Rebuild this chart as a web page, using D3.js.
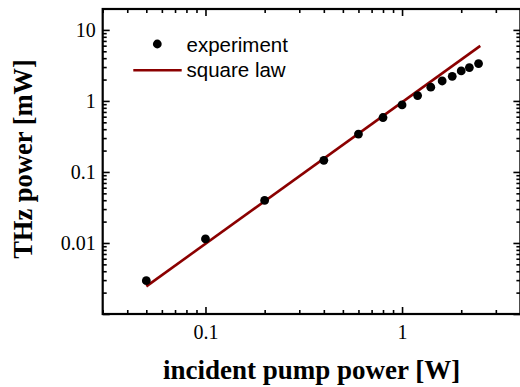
<!DOCTYPE html>
<html>
<head>
<meta charset="utf-8">
<script src="https://cdn.jsdelivr.net/npm/d3@7"></script>
<style>
body { margin: 0; background: #fff; }
svg { display: block; }
.tick text { font-family: "Liberation Serif", serif; font-size: 20px; fill: #000; }
</style>
</head>
<body>
<svg width="520" height="387"></svg>
<script>
// measured points (pump power W, THz power mW)
var pumpW = [0.05, 0.1, 0.2, 0.4, 0.6, 0.8, 1.0, 1.2, 1.4, 1.6, 1.8, 2.0, 2.2, 2.45];
var thzMW = [0.00295, 0.0114, 0.0397, 0.146, 0.342, 0.584, 0.879, 1.19, 1.56, 1.91, 2.22, 2.65, 2.95, 3.36];
// square law line end points
var lawX = [0.05, 2.5];
var lawY = [0.00245, 5.96];
var xTickLabels = [0.1, 1];
var yTickLabels = [0.01, 0.1, 1, 10];

var svg = d3.select("svg");
var pL = 102.7, pR = 520.4, pT = 9, pB = 314;

var x = d3.scaleLog().domain([0.03, 4]).range([pL, pR]);
var y = d3.scaleLog().domain([0.001, 19.7]).range([pB, pT]);

function minors(lo, hi) {
  var out = [];
  for (var e = -4; e <= 2; e++) {
    for (var m = 1; m <= 9; m++) {
      var v = m * Math.pow(10, e);
      if (v >= lo * 0.999 && v <= hi * 1.001) out.push(+v.toPrecision(3));
    }
  }
  return out;
}
var xAll = minors(0.03, 4);
var yAll = minors(0.001, 19.7);
function isMajor(v) { return Math.abs(Math.log10(v) - Math.round(Math.log10(v))) < 1e-6; }

var xfmt = function(d) { return xTickLabels.indexOf(d) >= 0 ? String(d) : ""; };
var yfmt = function(d) { return yTickLabels.indexOf(d) >= 0 ? String(d) : ""; };

// bottom axis, ticks pointing inward
var gx = svg.append("g").attr("transform", "translate(0," + pB + ")")
  .call(d3.axisBottom(x).tickValues(xAll).tickFormat(xfmt).tickSize(0));
gx.select(".domain").remove();
gx.selectAll(".tick line").attr("y2", function(d) { return isMajor(d) ? -7 : -4; })
  .attr("stroke", "#000").attr("stroke-width", 1.6);
gx.selectAll(".tick text").attr("y", 11);

// top axis
var gt = svg.append("g").attr("transform", "translate(0," + pT + ")")
  .call(d3.axisTop(x).tickValues(xAll).tickFormat("").tickSize(0));
gt.select(".domain").remove();
gt.selectAll(".tick line").attr("y2", function(d) { return isMajor(d) ? 7 : 4; })
  .attr("stroke", "#000").attr("stroke-width", 1.6);

// left axis
var gy = svg.append("g").attr("transform", "translate(" + pL + ",0)")
  .call(d3.axisLeft(y).tickValues(yAll).tickFormat(yfmt).tickSize(0));
gy.select(".domain").remove();
gy.selectAll(".tick line").attr("x2", function(d) { return isMajor(d) ? 7 : 4; })
  .attr("stroke", "#000").attr("stroke-width", 1.6);
gy.selectAll(".tick text").attr("x", -7);

// right axis
var gr = svg.append("g").attr("transform", "translate(" + pR + ",0)")
  .call(d3.axisRight(y).tickValues(yAll).tickFormat("").tickSize(0));
gr.select(".domain").remove();
gr.selectAll(".tick line").attr("x2", function(d) { return isMajor(d) ? -7 : -4; })
  .attr("stroke", "#000").attr("stroke-width", 1.6);

// frame
svg.append("rect").attr("x", pL).attr("y", pT)
  .attr("width", pR - pL).attr("height", pB - pT)
  .attr("fill", "none").attr("stroke", "#000").attr("stroke-width", 2.2);

// square law
var law = lawX.map(function(v, i) { return [v, lawY[i]]; });
svg.append("path").datum(law)
  .attr("d", d3.line().x(function(d) { return x(d[0]); }).y(function(d) { return y(d[1]); }))
  .attr("fill", "none").attr("stroke", "#8b0000").attr("stroke-width", 2.6);

// experiment points
svg.append("g").selectAll("circle").data(pumpW).enter().append("circle")
  .attr("cx", function(d) { return x(d); })
  .attr("cy", function(d, i) { return y(thzMW[i]); })
  .attr("r", 4.4).attr("fill", "#000");

// legend
var lg = svg.append("g").attr("font-family", "'Liberation Sans', Arial, sans-serif").attr("font-size", 20.5);
lg.append("circle").attr("cx", 157.3).attr("cy", 44).attr("r", 4.4).attr("fill", "#000");
lg.append("text").attr("x", 186.5).attr("y", 51.5).text("experiment");
lg.append("line").attr("x1", 133.3).attr("x2", 181.7).attr("y1", 70.3).attr("y2", 70.3)
  .attr("stroke", "#8b0000").attr("stroke-width", 2.6);
lg.append("text").attr("x", 186.5).attr("y", 76.5).text("square law");

// axis titles
svg.append("text").attr("x", 311.7).attr("y", 379)
  .attr("text-anchor", "middle").attr("font-family", "'Liberation Serif', serif")
  .attr("font-weight", "bold").attr("font-size", 27).text("incident pump power [W]");
svg.append("text").attr("transform", "translate(32,159) rotate(-90)")
  .attr("text-anchor", "middle").attr("font-family", "'Liberation Serif', serif")
  .attr("font-weight", "bold").attr("font-size", 26.5).text("THz power [mW]");
</script>
</body>
</html>
